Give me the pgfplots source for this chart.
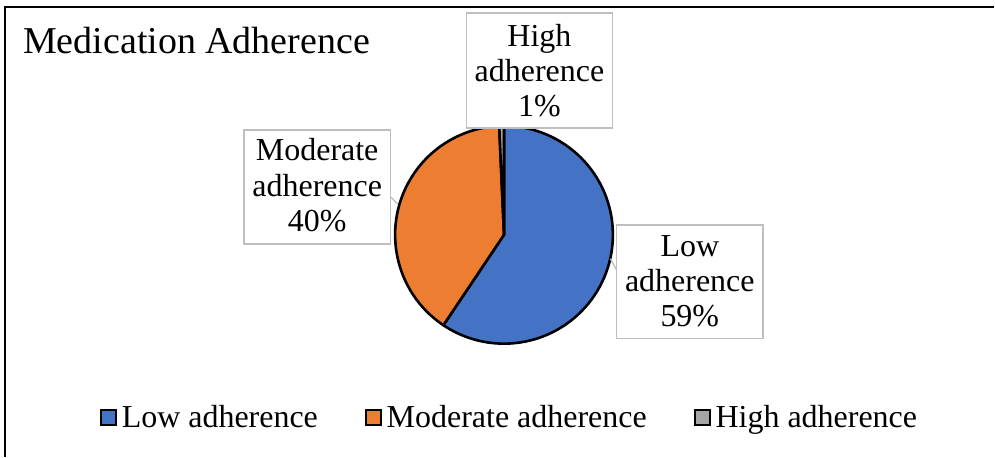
\documentclass[border=0pt]{standalone}
\usepackage{pgfplots}
\pgfplotsset{compat=1.18}
\usepackage{pgfplotstable}
\usepackage{fontspec}
\setmainfont{Liberation Serif}
\definecolor{cLow}{HTML}{4472C4}
\definecolor{cMod}{HTML}{ED7D31}
\definecolor{cHigh}{HTML}{A5A5A5}
\definecolor{lblframe}{HTML}{BFBFBF}

\pgfplotstableread{
category value
Low      59.4
Moderate 39.9
High     0.7
}\adherence

\begin{document}
\begin{tikzpicture}
\pgfplotstablegetelem{0}{value}\of\adherence \let\vLow\pgfplotsretval
\pgfplotstablegetelem{1}{value}\of\adherence \let\vMod\pgfplotsretval
\pgfplotstablegetelem{2}{value}\of\adherence \let\vHigh\pgfplotsretval
\pgfmathsetmacro\aA{90}
\pgfmathsetmacro\aB{90-3.6*\vLow}
\pgfmathsetmacro\aC{\aB-3.6*\vMod}
\pgfmathsetmacro\aD{\aC-3.6*\vHigh}
\def\R{109pt}
\begin{axis}[
  scale only axis, width=995pt, height=457pt,
  xmin=0, xmax=995, ymin=0, ymax=457, y dir=reverse,
  hide axis, clip=false,
  legend columns=3,
  legend style={draw=none, fill=none, at={(axis cs:510,418)}, anchor=center,
    font=\fontsize{32}{36}\selectfont,
    nodes={inner sep=2pt},
    /tikz/every even column/.append style={column sep=45pt}},
]
\path (axis cs:0,0) rectangle (axis cs:995,457);
% frame
\draw[line width=2pt] (axis cs:5,457) -- (axis cs:5,7) -- (axis cs:995,7);
% title
\node[anchor=base west, font=\fontsize{38}{44}\selectfont, inner sep=0pt] at (axis cs:23,54) {Medication Adherence};
% pie slices
\fill[cLow, draw=black, line width=2.6pt, line join=round] (axis cs:504.5,235) -- ++(\aA:\R) arc[start angle=\aA, end angle=\aB, radius=\R] -- cycle;
\fill[cMod, draw=black, line width=2.6pt, line join=round] (axis cs:504.5,235) -- ++(\aB:\R) arc[start angle=\aB, end angle=\aC, radius=\R] -- cycle;
\fill[cHigh, draw=black, line width=2.6pt, line join=round] (axis cs:504.5,235) -- ++(\aC:\R) arc[start angle=\aC, end angle=\aD, radius=\R] -- cycle;
% leader lines
\draw[lblframe, line width=1.3pt] (axis cs:391,197) -- (axis cs:398,204);
\draw[lblframe, line width=1.3pt] (axis cs:617,270) -- (axis cs:611,259);
% label boxes
\draw[lblframe, fill=white, line width=1.5pt] (axis cs:467,13) rectangle (axis cs:613,128);
\draw[lblframe, fill=white, line width=1.5pt] (axis cs:244,130) rectangle (axis cs:391,244);
\draw[lblframe, fill=white, line width=1.5pt] (axis cs:617,225) rectangle (axis cs:764,339);
\begin{scope}[every node/.style={anchor=base, inner sep=0pt, font=\fontsize{32}{36}\selectfont}]
\node at (axis cs:540,47) {High};
\node at (axis cs:540,82) {adherence};
\node at (axis cs:540,117) {1\%};
\node at (axis cs:317.5,161) {Moderate};
\node at (axis cs:317.5,197) {adherence};
\node at (axis cs:317.5,232) {40\%};
\node at (axis cs:690.5,257) {Low};
\node at (axis cs:690.5,292) {adherence};
\node at (axis cs:690.5,327) {59\%};
\end{scope}
% legend
\addlegendimage{legend image code/.code={\draw[fill=cLow, draw=black, line width=1.8pt] (0pt,-7.5pt) rectangle (15pt,7.5pt); \path[draw=none, fill=none] (15pt,0pt) -- (19pt,0pt);}}
\addlegendentry{Low adherence}
\addlegendimage{legend image code/.code={\draw[fill=cMod, draw=black, line width=1.8pt] (0pt,-7.5pt) rectangle (15pt,7.5pt); \path[draw=none, fill=none] (15pt,0pt) -- (19pt,0pt);}}
\addlegendentry{Moderate adherence}
\addlegendimage{legend image code/.code={\draw[fill=cHigh, draw=black, line width=1.8pt] (0pt,-7.5pt) rectangle (15pt,7.5pt); \path[draw=none, fill=none] (15pt,0pt) -- (19pt,0pt);}}
\addlegendentry{High adherence}
\end{axis}
\end{tikzpicture}
\end{document}
